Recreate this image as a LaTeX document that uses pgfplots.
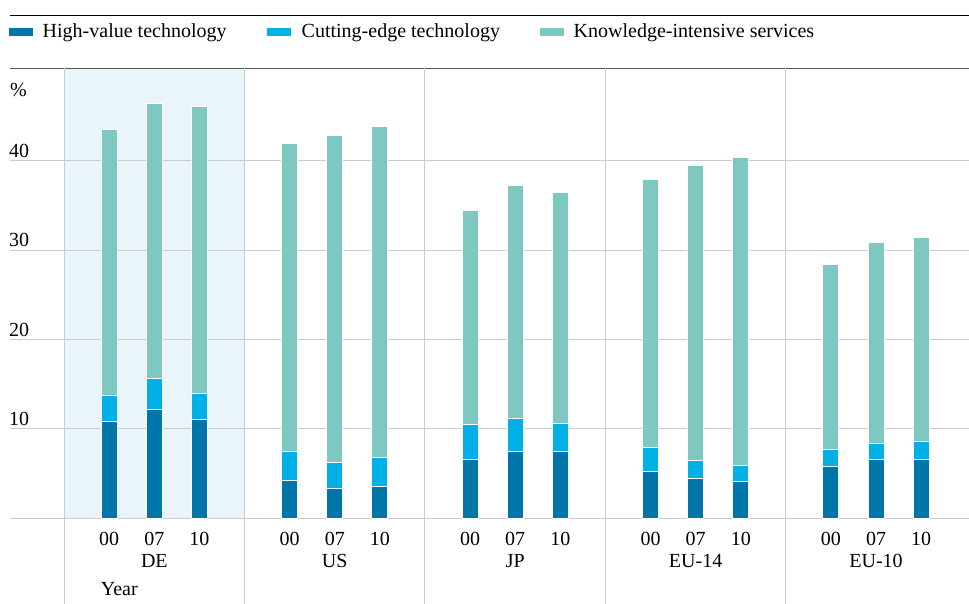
\documentclass[border=0pt]{standalone}
\usepackage{fontspec}
\setmainfont{Liberation Serif}
\usepackage{pgfplots}
\pgfplotsset{compat=1.18}
\definecolor{hv}{HTML}{0076A8}
\definecolor{ce}{HTML}{00B0E6}
\definecolor{kis}{HTML}{7DC8C1}
\definecolor{shadec}{HTML}{E9F4FB}
\definecolor{gridc}{HTML}{CCCCCC}
\definecolor{topc}{HTML}{555555}
\begin{document}
\begin{tikzpicture}[font=\fontsize{20}{22}\selectfont]
\useasboundingbox (0,0) rectangle (969pt,603pt);
\fill[shadec] (64.13pt,85pt) rectangle (244.56pt,534.7pt);
\begin{axis}[
  at={(10pt,85pt)}, anchor=south west,
  scale only axis, width=959pt, height=449.7pt,
  xmin=-1.2, xmax=20.06, ymin=0, ymax=50.36,
  clip=false,
  ybar stacked, bar width=16pt,
  axis x line*=bottom, axis y line*=left,
  x axis line style={-, draw=gridc, line width=1pt},
  y axis line style={draw=none},
  major tick length=0pt,
  ytick={10,20,30,40},
  ymajorgrids, grid style={gridc, line width=1pt},
  yticklabel style={anchor=south west, inner sep=0pt, xshift=-1pt, yshift=3pt},
  /pgf/number format/assume math mode=true,
  xtick={1,2,3,5,6,7,9,10,11,13,14,15,17,18,19},
  xticklabels={00,{07\\DE},10,00,{07\\US},10,00,{07\\JP},10,00,{07\\EU-14},10,00,{07\\EU-10},10},
  xticklabel style={align=center, anchor=north, inner sep=0pt, yshift=-14pt},
  legend columns=3,
  legend cell align=left,
  legend style={at={(axis description cs:-0.0007,1.0812)}, anchor=west, draw=none, fill=none,
    inner sep=0pt, outer sep=0pt, nodes={inner sep=0pt},
    /tikz/every even column/.style={column sep=0pt}},
]
\addplot[fill=hv, draw=white, line width=1pt,
  legend image code/.code={\fill[hv] (0pt,-3.25pt) rectangle (23pt,3.25pt);}]
  coordinates {(1,10.8) (2,12.2) (3,11.05) (5,4.2) (6,3.3) (7,3.55) (9,6.6) (10,7.5) (11,7.4)
  (13,5.2) (14,4.4) (15,4.1) (17,5.8) (18,6.5) (19,6.6)};
\addlegendentry{\hspace*{9.4pt}\makebox[224.3pt][l]{High-value technology}}
\addplot[fill=ce, draw=white, line width=1pt,
  legend image code/.code={\fill[ce] (0pt,-3.25pt) rectangle (23pt,3.25pt);}]
  coordinates {(1,2.9) (2,3.4) (3,2.85) (5,3.2) (6,2.9) (7,3.2) (9,3.9) (10,3.6) (11,3.2)
  (13,2.7) (14,2.0) (15,1.8) (17,1.9) (18,1.8) (19,2.0)};
\addlegendentry{\hspace*{10.7pt}\makebox[238.5pt][l]{Cutting-edge technology}}
\addplot[fill=kis, draw=white, line width=1pt,
  legend image code/.code={\fill[kis] (0pt,-3.25pt) rectangle (23pt,3.25pt);}]
  coordinates {(1,29.8) (2,30.8) (3,32.2) (5,34.5) (6,36.6) (7,37.05) (9,23.9) (10,26.1) (11,25.8)
  (13,30.0) (14,33.1) (15,34.45) (17,20.7) (18,22.5) (19,22.8)};
\addlegendentry{\hspace*{9.5pt}Knowledge-intensive services}
\draw[gridc, line width=1pt] (axis cs:0,50.36) -- (axis cs:0,-9.6);
\draw[gridc, line width=1pt] (axis cs:4,50.36) -- (axis cs:4,-9.6);
\draw[gridc, line width=1pt] (axis cs:8,50.36) -- (axis cs:8,-9.6);
\draw[gridc, line width=1pt] (axis cs:12,50.36) -- (axis cs:12,-9.6);
\draw[gridc, line width=1pt] (axis cs:16,50.36) -- (axis cs:16,-9.6);
\draw[black, line width=1pt] (rel axis cs:0,1.1185) -- (rel axis cs:1,1.1185);
\draw[topc, line width=1.5pt] (rel axis cs:0,1) -- (rel axis cs:1,1);
\node[anchor=base west, inner sep=0pt] at (axis cs:-1.2,47.18) {\%};
\node[anchor=base west, inner sep=0pt] at (axis cs:0.81,-8.73) {Year};
\end{axis}
\end{tikzpicture}
\end{document}
